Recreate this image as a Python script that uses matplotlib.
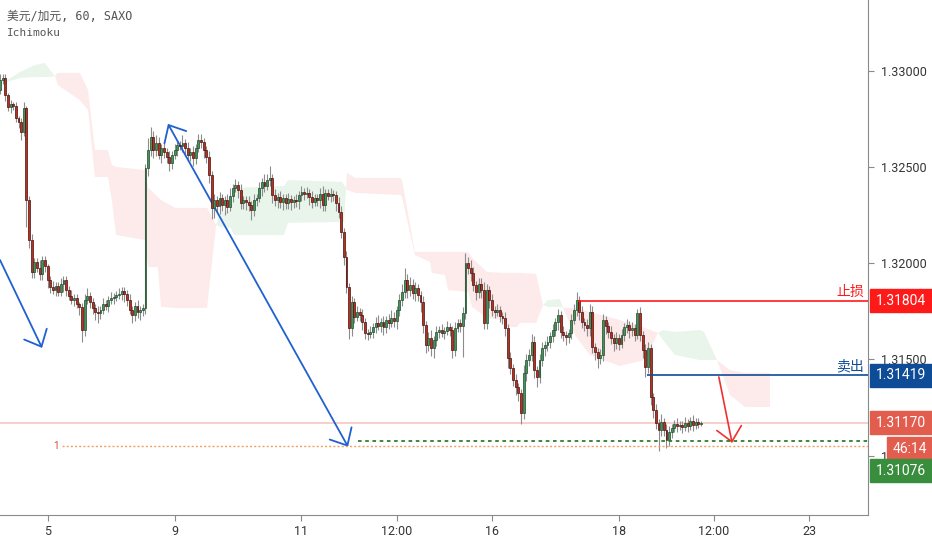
import numpy as np
import matplotlib.pyplot as plt
from matplotlib.patches import Rectangle

# Hourly USD/CAD candles, hour index 0 = day "5" 00:00
first_open = 1.32901
closes = [
    1.32953, 1.32964, 1.32875, 1.32813, 1.32828, 1.32818, 1.32756, 1.32735, 1.32683, 1.32808, 1.32329, 1.32121, 1.31955, 1.32007, 1.31976, 1.31944, 1.32017, 1.31986, 1.31913,
    1.31877, 1.31861, 1.31882, 1.31851, 1.31892, 1.31913, 1.31861, 1.31830, 1.31809, 1.31820, 1.31788, 1.31773, 1.31653, 1.31809, 1.31830, 1.31799, 1.31768, 1.31747, 1.31742,
    1.31757, 1.31788, 1.31778, 1.31809, 1.31820, 1.31825, 1.31835, 1.31840, 1.31856, 1.31840, 1.31809, 1.31757, 1.31731, 1.31778, 1.31747, 1.31757, 1.31768, 1.32496, 1.32589,
    1.32657, 1.32589, 1.32626, 1.32563, 1.32600, 1.32579, 1.32553, 1.32522, 1.32563, 1.32589, 1.32615, 1.32610, 1.32626, 1.32600, 1.32563, 1.32579, 1.32548, 1.32600, 1.32641,
    1.32631, 1.32589, 1.32553, 1.32459, 1.32288, 1.32329, 1.32298, 1.32340, 1.32303, 1.32329, 1.32293, 1.32350, 1.32392, 1.32407, 1.32381, 1.32314, 1.32329, 1.32319, 1.32303,
    1.32277, 1.32329, 1.32340, 1.32392, 1.32423, 1.32402, 1.32433, 1.32444, 1.32355, 1.32329, 1.32345, 1.32319, 1.32340, 1.32314, 1.32334, 1.32319, 1.32329, 1.32324, 1.32355,
    1.32371, 1.32360, 1.32366, 1.32345, 1.32319, 1.32340, 1.32329, 1.32360, 1.32303, 1.32366, 1.32350, 1.32360, 1.32355, 1.32314, 1.32267, 1.32163, 1.32033, 1.31877, 1.31664,
    1.31799, 1.31721, 1.31747, 1.31731, 1.31695, 1.31638, 1.31632, 1.31643, 1.31669, 1.31690, 1.31674, 1.31695, 1.31669, 1.31705, 1.31690, 1.31716, 1.31700, 1.31757, 1.31809,
    1.31851, 1.31913, 1.31861, 1.31887, 1.31846, 1.31872, 1.31835, 1.31799, 1.31679, 1.31575, 1.31612, 1.31560, 1.31601, 1.31643, 1.31653, 1.31638, 1.31648, 1.31669, 1.31653,
    1.31549, 1.31664, 1.31690, 1.31674, 1.31742, 1.32002, 1.31976, 1.31950, 1.31887, 1.31851, 1.31892, 1.31861, 1.31690, 1.31861, 1.31809, 1.31757, 1.31747, 1.31757, 1.31726,
    1.31716, 1.31664, 1.31508, 1.31456, 1.31393, 1.31357, 1.31326, 1.31222, 1.31430, 1.31497, 1.31523, 1.31591, 1.31445, 1.31409, 1.31497, 1.31560, 1.31575, 1.31591, 1.31622,
    1.31653, 1.31695, 1.31731, 1.31643, 1.31627, 1.31617, 1.31638, 1.31705, 1.31757, 1.31809, 1.31747, 1.31695, 1.31679, 1.31664, 1.31747, 1.31565, 1.31539, 1.31508, 1.31523,
    1.31705, 1.31674, 1.31643, 1.31612, 1.31586, 1.31612, 1.31580, 1.31627, 1.31669, 1.31679, 1.31653, 1.31664, 1.31627, 1.31742, 1.31627, 1.31549, 1.31461, 1.31560, 1.31305,
    1.31237, 1.31170, 1.31133, 1.31175, 1.31133, 1.31081, 1.31123, 1.31144, 1.31164, 1.31154, 1.31159, 1.31149, 1.31170, 1.31154, 1.31180, 1.31159, 1.31175, 1.31164, 1.31170,
]
# wick lengths in pips above / below the body
up_wick = [
    3, 2, 2, 1, 2, 1, 2, 1, 2, 3, 1, 2, 3, 2, 2, 4, 2, 2, 1,
    2, 3, 2, 2, 3, 2, 2, 2, 3, 2, 2, 1, 2, 3, 4, 2, 2, 2, 3,
    2, 3, 2, 2, 3, 2, 2, 3, 2, 2, 2, 3, 2, 2, 3, 2, 2, 2, 6,
    5, 3, 4, 3, 2, 3, 2, 3, 2, 3, 2, 2, 4, 2, 3, 2, 3, 2, 3,
    3, 2, 2, 3, 2, 3, 2, 3, 2, 2, 3, 4, 2, 3, 2, 3, 2, 2, 3,
    2, 3, 2, 3, 2, 4, 3, 6, 2, 3, 2, 3, 2, 2, 3, 2, 2, 3, 2,
    3, 2, 3, 2, 3, 2, 2, 3, 4, 2, 2, 3, 2, 2, 3, 3, 2, 3, 2,
    3, 2, 3, 2, 3, 2, 2, 3, 2, 3, 4, 2, 3, 2, 3, 4, 3, 2, 3,
    4, 6, 3, 4, 3, 3, 2, 2, 3, 2, 3, 4, 2, 3, 2, 3, 2, 3, 2,
    2, 3, 2, 2, 3, 5, 3, 4, 3, 2, 3, 3, 4, 3, 2, 3, 2, 3, 2,
    2, 3, 2, 3, 2, 3, 2, 2, 4, 3, 3, 4, 3, 2, 3, 3, 2, 3, 2,
    3, 2, 3, 2, 3, 2, 2, 3, 3, 4, 2, 3, 2, 3, 4, 3, 2, 2, 3,
    3, 2, 2, 3, 2, 3, 2, 3, 2, 3, 2, 3, 2, 2, 3, 2, 3, 3, 2,
    2, 3, 2, 4, 2, 3, 3, 2, 2, 3, 2, 2, 3, 2, 2, 3, 2, 2, 1,
]
down_wick = [
    2, 2, 3, 2, 3, 2, 2, 3, 4, 2, 14, 4, 3, 3, 2, 3, 3, 3, 4,
    3, 2, 3, 2, 2, 4, 3, 2, 2, 3, 2, 4, 6, 3, 2, 3, 3, 4, 5,
    3, 2, 2, 3, 2, 3, 2, 2, 3, 4, 3, 2, 4, 3, 3, 4, 3, 3, 4,
    3, 4, 3, 2, 4, 3, 3, 4, 3, 2, 3, 2, 3, 4, 2, 3, 4, 3, 2,
    3, 4, 3, 4, 6, 5, 3, 4, 3, 5, 3, 2, 3, 2, 4, 3, 3, 4, 3,
    5, 3, 3, 2, 4, 3, 2, 3, 4, 3, 4, 3, 4, 3, 3, 4, 3, 3, 4,
    3, 3, 2, 4, 3, 2, 3, 4, 3, 3, 2, 3, 3, 4, 3, 3, 4, 3, 6,
    4, 3, 2, 3, 4, 3, 3, 2, 3, 3, 2, 3, 4, 3, 3, 2, 3, 4, 3,
    3, 3, 4, 3, 3, 4, 3, 5, 4, 4, 3, 4, 5, 3, 3, 2, 3, 2, 3,
    4, 3, 2, 3, 16, 3, 3, 4, 3, 4, 3, 4, 3, 3, 4, 3, 3, 2, 3,
    3, 4, 5, 3, 3, 4, 4, 6, 3, 4, 3, 3, 4, 5, 3, 3, 4, 3, 3,
    3, 3, 4, 3, 3, 4, 3, 3, 2, 3, 4, 3, 3, 4, 4, 3, 4, 5, 3,
    3, 4, 3, 3, 4, 3, 3, 2, 3, 3, 4, 3, 3, 2, 3, 4, 5, 3, 4,
    4, 3, 11, 3, 3, 4, 3, 3, 2, 3, 2, 3, 2, 3, 2, 3, 2, 2, 1,
]
first_hour = -18

# Ichimoku cloud (Senkou span A / B), read at break points
cloud_hours = [-18, -15.3, -10.4, -4.8, -1.0, 0.9, 2.8, 3.9, 12.2, 15.3, 17.9, 22.8, 24.3, 25.9, 36.8, 38.0,
               41.7, 42.9, 48.2, 60.3, 63.7, 65.2, 69.3, 70.5, 89.4, 90.9, 111.3, 112.1, 113.2, 116.3, 133.3,
               134.0, 138.9, 144.6, 145.3, 150.3, 151.4, 159.0, 160.5, 166.1, 172.2, 173.3, 177.5, 178.6, 184.7,
               187.3, 189.2, 193.7, 195.2, 199.4, 205.0, 216.4, 225.8, 230.8, 232.7, 237.2, 246.7, 248.2, 253.1,
               258.0, 263.7, 273.1]
span_a = [1.32938, 1.32953, 1.32995, 1.33031, 1.33042, 1.33005, 1.32974,
          1.32927, 1.32849, 1.32797, 1.32449, 1.32449, 1.32329, 1.32147, 1.32121, 1.31981, 1.31981, 1.31773, 1.31768, 1.31768, 1.32199,
          1.32262, 1.32277, 1.32392, 1.32402, 1.32433, 1.32423, 1.32407,
          1.32381, 1.32366, 1.32355, 1.32345, 1.32043, 1.32007, 1.31950, 1.31939, 1.31861, 1.31851, 1.31773, 1.31716, 1.31705, 1.31669, 1.31669, 1.31690, 1.31690, 1.31783,
          1.31809, 1.31814, 1.31757,
          1.31627, 1.31523, 1.31466, 1.31497, 1.31638,
          1.31653, 1.31643, 1.31653, 1.31643, 1.31497,
          1.31315, 1.31253, 1.31253]
span_b = [1.32938, 1.32943, 1.32964, 1.32969, 1.32969, 1.32969, 1.32974,
          1.32990, 1.32990, 1.32901, 1.32589, 1.32589, 1.32511, 1.32501, 1.32485, 1.32392, 1.32345, 1.32329, 1.32288, 1.32288, 1.32199,
          1.32189, 1.32184, 1.32147, 1.32147, 1.32210, 1.32215, 1.32215,
          1.32470, 1.32444, 1.32444, 1.32433, 1.32059, 1.32059, 1.32059, 1.32059, 1.32059, 1.32059, 1.32028, 1.31955, 1.31950, 1.31950, 1.31950, 1.31950, 1.31944, 1.31783,
          1.31773, 1.31773, 1.31768,
          1.31768, 1.31747, 1.31705, 1.31664, 1.31638,
          1.31601, 1.31523, 1.31497, 1.31497, 1.31497,
          1.31445, 1.31430, 1.31430]

# Levels and drawings
stop_loss = 1.31804
sell = 1.31419
last_price = 1.31170
target = 1.31076
fib_one = 1.31050
countdown = '46:14'
blue_arrows = [((-18, 1.32017), (-2.1, 1.31560), '->'),
               ((45.5, 1.32725), (113.6, 1.31046), '<->')]
red_arrow = ((253.8, 1.31409), (258.8, 1.31066))

tick_hours = [0, 48, 96, 132, 168, 216, 252, 288]
tick_labels = ['5', '9', '11', '12:00', '16', '18', '12:00', '23']
price_ticks = [1.31, 1.315, 1.32, 1.325, 1.33]

W, H = 932, 550
plt.rcParams['font.family'] = ['Roboto', 'Noto Sans CJK SC', 'DejaVu Sans']
fig = plt.figure(figsize=(W / 100, H / 100), dpi=100)
ax = fig.add_axes([0, 1 - 515 / H, 868 / W, 515 / H])
ax.set_xlim(-18, 310.2)
ax.set_ylim(1.30691, 1.333692)

# Candles
closes = np.array(closes)
opens = np.concatenate([[first_open], closes[:-1]])
hours = first_hour + np.arange(len(closes))
pip = 0.0001
highs = np.maximum(opens, closes) + np.array(up_wick) * pip
lows = np.minimum(opens, closes) - np.array(down_wick) * pip
up = closes >= opens
face = np.where(up, '#45935c', '#b8301f')
edge = np.where(up, '#1d4a2b', '#4a0f0a')
ax.vlines(hours, lows, highs, color='#8c8c8c', lw=0.8, zorder=3)
ax.bar(hours, closes - opens, bottom=opens, width=0.72, color=face, edgecolor=edge, linewidth=0.5, zorder=4)

# Cloud
ca = np.array(span_a)
cb = np.array(span_b)
ax.fill_between(cloud_hours, ca, cb, where=ca >= cb, interpolate=True, color='#e9f5eb', lw=0, zorder=1)
ax.fill_between(cloud_hours, ca, cb, where=ca < cb, interpolate=True, color='#fdeaea', lw=0, zorder=1)

# Horizontal levels
ax.axhline(last_price, color='#f6c6c1', lw=1.2, zorder=2)
ax.hlines(stop_loss, 200.4, 310.2, color='#ff1a1a', lw=1.2, zorder=5)
ax.hlines(sell, 226.6, 310.2, color='#0f4c97', lw=1.2, zorder=5)
ax.hlines(target, 117.3, 310.2, color='#2e7d32', lw=1.3, linestyles=(0, (2, 2)), zorder=5)
ax.hlines(fib_one, 5.4, 310.2, color='#f0a060', lw=1.0, linestyles=(0, (1.5, 1.5)), zorder=5)
ax.annotate('1', xy=(5.4, fib_one), xytext=(-3, 0), textcoords='offset pixels',
            ha='right', va='center', fontsize=7, color='#d0442a')

ax.annotate('止损', xy=(310.2, stop_loss), xytext=(-4, 9), textcoords='offset pixels',
            ha='right', va='center', fontsize=10, color='#ff1a1a', family=['Noto Sans CJK SC'])
ax.annotate('卖出', xy=(310.2, sell), xytext=(-4, 9), textcoords='offset pixels',
            ha='right', va='center', fontsize=10, color='#0f4c97', family=['Noto Sans CJK SC'])

# Arrows
head = dict(color='#2060d0', lw=1.3, shrinkA=0, shrinkB=0, mutation_scale=20)
for tail, tip, style in blue_arrows:
    ax.annotate('', xy=tip, xytext=tail, annotation_clip=False,
                arrowprops=dict(arrowstyle=style + ',head_length=0.5,head_width=0.45', **head))
ax.annotate('', xy=red_arrow[1], xytext=red_arrow[0],
            arrowprops=dict(arrowstyle='->,head_length=0.5,head_width=0.45', color='#f03030',
                            lw=1.2, shrinkA=0, shrinkB=0, mutation_scale=20))

# Axes styling
for s in ['top', 'left']:
    ax.spines[s].set_visible(False)
for s in ['right', 'bottom']:
    ax.spines[s].set_color('#8a8a8a')
ax.yaxis.tick_right()
ax.set_yticks(price_ticks)
ax.set_yticklabels(['%.5f' % p for p in price_ticks])
ax.set_xticks(tick_hours)
ax.set_xticklabels(tick_labels)
ax.tick_params(axis='both', colors='#8a8a8a', labelcolor='#333333', labelsize=9, length=4)
ax.tick_params(axis='y', pad=5)
ax.tick_params(axis='x', pad=3)


# Price tags on the right scale
def price_tag(price, text, color, shift=0, left=870):
    _, yp = ax.transData.transform((0, price))
    yc = yp - shift
    fig.add_artist(Rectangle((left / W, (yc - 11.5) / H), (W - left) / W, 23 / H,
                             transform=fig.transFigure, color=color, zorder=6))
    fig.text((left + W) / 2 / W, yc / H, text, ha='center', va='center',
             color='white', fontsize=10, zorder=7)


price_tag(stop_loss, '%.5f' % stop_loss, '#ff1a1a')
price_tag(sell, '%.5f' % sell, '#0f4c97')
price_tag(last_price, '%.5f' % last_price, '#e35d4f')
price_tag(last_price, countdown, '#e35d4f', shift=26, left=887)
price_tag(target, '%.5f' % target, '#388e3c', shift=30)

# Header
fig.text(7 / W, 1 - 17 / H, '美元/加元, 60, SAXO', fontsize=8.5, color='#555555',
         va='center', family=['DejaVu Sans Mono', 'Noto Sans CJK SC'])
fig.text(7 / W, 1 - 33 / H, 'Ichimoku', fontsize=8, color='#555555',
         va='center', family=['DejaVu Sans Mono'])

fig.savefig('out.png', dpi=100)
